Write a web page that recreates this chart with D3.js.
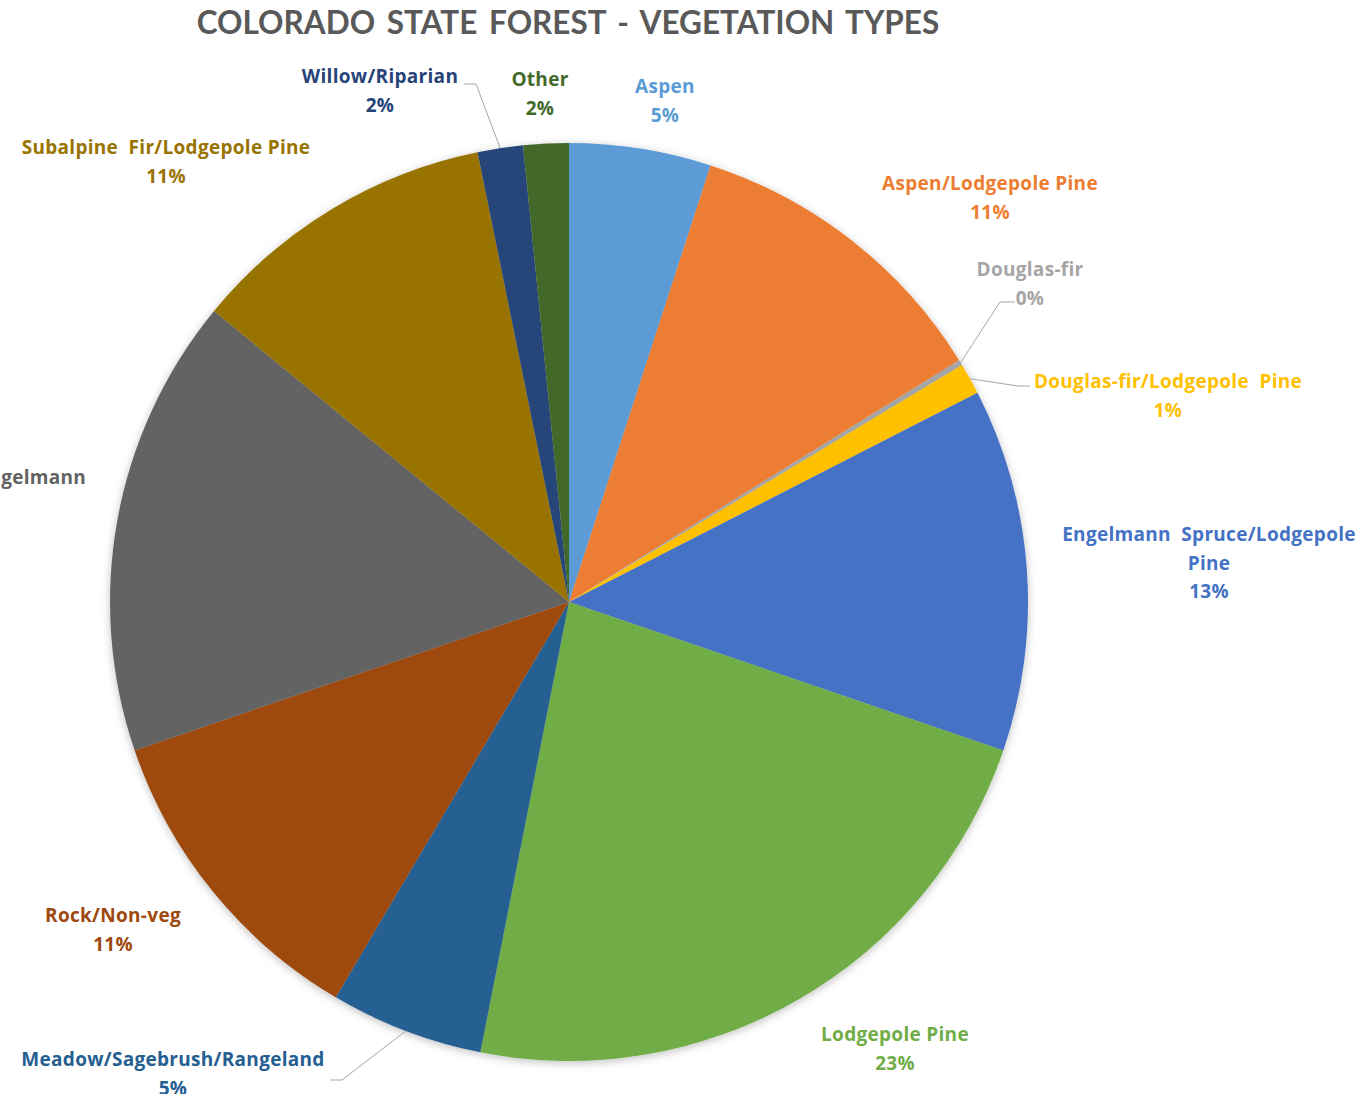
<!DOCTYPE html>
<html>
<head>
<meta charset="utf-8">
<script src="https://cdn.jsdelivr.net/npm/d3@7"></script>
<style>
    body { margin: 0; background: #fff; }
    svg { display: block; }
</style>
</head>
<body>
<script>
// slices, clockwise from 12 o'clock
const categories = [
    "Aspen", "Aspen/Lodgepole Pine", "Douglas-fir", "Douglas-fir/Lodgepole  Pine",
    "Engelmann  Spruce/Lodgepole Pine", "Lodgepole Pine", "Meadow/Sagebrush/Rangeland",
    "Rock/Non-veg", "Subalpine Fir/Engelmann", "Subalpine  Fir/Lodgepole Pine",
    "Willow/Riparian", "Other"
];
const shares = [5.0, 11.2, 0.2, 1.1, 12.8, 22.9, 5.4, 11.3, 16.2, 10.9, 1.6, 1.6];
const colors = [
    "#5B9BD5", "#ED7D31", "#A5A5A5", "#FFC000", "#4472C4", "#70AD47",
    "#255E91", "#9E480E", "#636363", "#997300", "#264478", "#43682B"
];
const title = "COLORADO STATE FOREST - VEGETATION TYPES";

const svgWidth = 1370;
const svgHeight = 1094;
const cx = 569, cy = 602, radius = 459;

// where excel dropped each data label (centre x, baseline of first line)
const labelAnchors = {
    "Aspen": [665, 93],
    "Aspen/Lodgepole Pine": [990, 190],
    "Douglas-fir": [1030, 276],
    "Douglas-fir/Lodgepole  Pine": [1168, 388],
    "Engelmann  Spruce/Lodgepole Pine": [1209, 541],
    "Lodgepole Pine": [895, 1041],
    "Meadow/Sagebrush/Rangeland": [173, 1066],
    "Rock/Non-veg": [113, 922],
    "Subalpine Fir/Engelmann": [-36, 484],
    "Subalpine  Fir/Lodgepole Pine": [166, 154],
    "Willow/Riparian": [380, 83],
    "Other": [540, 86]
};
// label wraps
const wraps = {
    "Engelmann  Spruce/Lodgepole Pine": ["Engelmann  Spruce/Lodgepole", "Pine"]
};
// leader lines: elbow and end near the label
const leaders = {
    "Willow/Riparian": [[476, 84], [464, 84]],
    "Douglas-fir": [[1000, 302], [1015, 302]],
    "Douglas-fir/Lodgepole  Pine": [[1018, 386], [1030, 386]],
    "Meadow/Sagebrush/Rangeland": [[342, 1080], [330, 1080]]
};

const data = categories.map((c, i) => ({name: c, value: shares[i], color: colors[i]}));
const total = d3.sum(shares);

const svg = d3.select("body").append("svg")
    .attr("width", svgWidth)
    .attr("height", svgHeight);

const defs = svg.append("defs");
defs.append("filter")
    .attr("id", "shadow")
    .attr("x", "-10%").attr("y", "-10%")
    .attr("width", "120%").attr("height", "120%")
    .append("feDropShadow")
    .attr("dx", 0).attr("dy", 2)
    .attr("stdDeviation", 4)
    .attr("flood-color", "#000")
    .attr("flood-opacity", 0.25);

svg.append("text")
    .attr("x", 568)
    .attr("y", 34)
    .attr("text-anchor", "middle")
    .attr("font-family", "Lato, 'Open Sans', sans-serif")
    .attr("font-weight", "bold")
    .attr("font-size", "31.5px")
    .attr("fill", "#595959")
    .attr("word-spacing", "4px")
    .text(title);

const pie = d3.pie().sort(null).value(d => d.value);
const arcs = pie(data);
const arc = d3.arc().innerRadius(0).outerRadius(radius);

const g = svg.append("g").attr("transform", `translate(${cx},${cy})`);

g.append("g")
    .attr("filter", "url(#shadow)")
    .selectAll("path")
    .data(arcs)
    .join("path")
    .attr("d", arc)
    .attr("fill", d => d.data.color);

// leader lines
const line = d3.line();
svg.append("g")
    .selectAll("path")
    .data(arcs.filter(d => leaders[d.data.name]))
    .join("path")
    .attr("d", d => {
        const mid = (d.startAngle + d.endAngle) / 2;
        const p = d3.pointRadial(mid, radius);
        return line([[cx + p[0], cy + p[1]], ...leaders[d.data.name]]);
    })
    .attr("fill", "none")
    .attr("stroke", "#A6A6A6")
    .attr("stroke-width", 1);

// data labels
const labels = svg.append("g")
    .attr("font-family", "'Open Sans', Lato, sans-serif")
    .attr("font-weight", "bold")
    .attr("font-size", "19px")
    .attr("letter-spacing", "0.3px")
    .attr("text-anchor", "middle")
    .selectAll("text")
    .data(arcs)
    .join("text")
    .attr("fill", d => d.data.color)
    .attr("transform", d => `translate(${labelAnchors[d.data.name]})`);

labels.each(function (d) {
    const lines = (wraps[d.data.name] || [d.data.name])
        .concat([Math.round(d.data.value / total * 100) + "%"]);
    d3.select(this).selectAll("tspan")
        .data(lines)
        .join("tspan")
        .attr("x", 0)
        .attr("y", (l, i) => i * 28.5)
        .text(l => l.replace(/  /g, " \u00a0"));
});
</script>
</body>
</html>
